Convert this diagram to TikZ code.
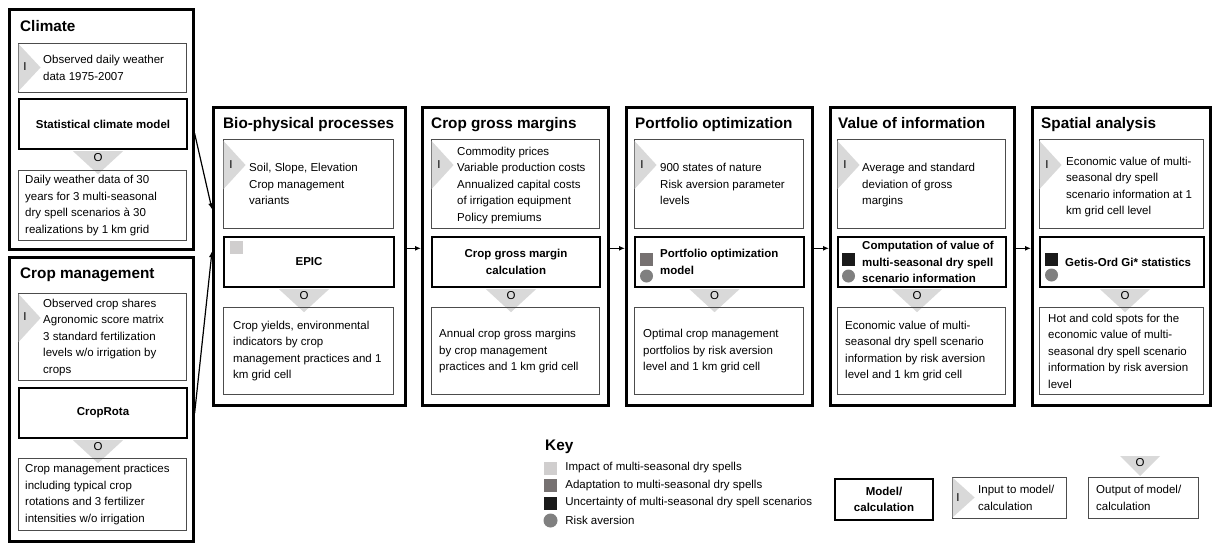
\documentclass[tikz,border=0pt]{standalone}
\usepackage{fontspec}
\setmainfont{Liberation Sans}
\usetikzlibrary{arrows.meta,calc}
\definecolor{impactgrey}{RGB}{208,206,206}
\definecolor{adaptgrey}{RGB}{118,113,113}
\definecolor{uncertblack}{RGB}{26,26,26}
\definecolor{riskgrey}{RGB}{128,128,128}
\definecolor{trigrey}{RGB}{217,217,217}

\begin{document}
\begin{tikzpicture}[x=1pt, y=-1pt, font=\fontsize{11.5}{16.5}\selectfont,
    frame/.style={draw, line width=2.6pt, inner sep=0, anchor=north west},
    modelbox/.style={draw, line width=2pt, inner sep=0, anchor=north west},
    iobox/.style={draw=black!70, line width=1.1pt, inner sep=0, anchor=north west},
    head/.style={font=\fontsize{15.3}{18}\selectfont\bfseries, anchor=base west, inner sep=0},
    txt/.style={align=left, anchor=west, inner sep=0},
    modeltxt/.style={font=\fontsize{11.5}{16.5}\selectfont\bfseries, align=center, inner sep=0},
    letter/.style={inner sep=0},
    tri/.style={fill=trigrey},
    keysq/.style={minimum size=13pt, inner sep=0},
    flow/.style={-{Latex[length=6pt,width=5pt]}, line width=1.2pt}]
    \useasboundingbox (0,0) rectangle (1212,542);

    % Climate
    \node[frame, minimum width=184pt, minimum height=240pt] (clim) at (8,8) {};
    \node[head] (climH) at ($(clim.north west)+(12,23)$) {Climate};
    \node[iobox, minimum width=168pt, minimum height=49pt] (climIn) at (18,43) {};
    \fill[tri] (climIn.north west) ++(0.6,1) -- ++(22,23.5) -- ++(-22,23.5) -- cycle;
    \node[letter] (climI) at ($(climIn.north west)+(7,24)$) {I};
    \node[txt] (climInT) at ($(climIn.west)+(25,0)$) {Observed daily weather\\data 1975-2007};
    \node[modelbox, minimum width=168pt, minimum height=50pt] (climM) at (18,98) {};
    \node[modeltxt] (climMT) at (climM) {Statistical climate model};
    \fill[tri] ($(climM.south)+(-30,1.2)$) -- ++(50,0) -- ++(-25,23) -- cycle;
    \node[letter] (climO) at ($(climM.south)+(-5,8)$) {O};
    \node[iobox, minimum width=168pt, minimum height=70pt] (climOut) at (18,170) {};
    \node[txt] (climOutT) at ($(climOut.west)+(7,0)$) {Daily weather data of 30\\years for 3 multi-seasonal\\dry spell scenarios à 30\\realizations by 1 km grid};

    % Crop management
    \node[frame, minimum width=184pt, minimum height=284pt] (crop) at (8,256) {};
    \node[head] (cropH) at ($(crop.north west)+(12,22)$) {Crop management};
    \node[iobox, minimum width=168pt, minimum height=87pt] (cropIn) at (18,293) {};
    \fill[tri] (cropIn.north west) ++(0.6,1) -- ++(22,24) -- ++(-22,24) -- cycle;
    \node[letter] (cropI) at ($(cropIn.north west)+(7,24)$) {I};
    \node[txt] (cropInT) at ($(cropIn.west)+(25,0)$) {Observed crop shares\\Agronomic score matrix\\3 standard fertilization\\levels w/o irrigation by\\crops};
    \node[modelbox, minimum width=168pt, minimum height=50pt] (cropM) at (18,387) {};
    \node[modeltxt] (cropMT) at (cropM) {CropRota};
    \fill[tri] ($(cropM.south)+(-30,1.2)$) -- ++(50,0) -- ++(-25,23) -- cycle;
    \node[letter] (cropO) at ($(cropM.south)+(-5,8)$) {O};
    \node[iobox, minimum width=168pt, minimum height=72pt] (cropOut) at (18,458) {};
    \node[txt] (cropOutT) at ($(cropOut.west)+(7,0)$) {Crop management practices\\including typical crop\\rotations and 3 fertilizer\\intensities w/o irrigation};

    % Bio-physical processes
    \node[frame, minimum width=192pt, minimum height=298pt] (bio) at (212,106) {};
    \node[head] (bioH) at ($(bio.north west)+(11,22.5)$) {Bio-physical processes};
    \node[iobox, minimum width=170pt, minimum height=89pt] (bioIn) at (223,139) {};
    \fill[tri] (bioIn.north west) ++(0.6,2) -- ++(22,24) -- ++(-22,24) -- cycle;
    \node[letter] (bioI) at ($(bioIn.north west)+(8,26)$) {I};
    \node[txt] (bioInT) at ($(bioIn.west)+(26,0)$) {Soil, Slope, Elevation\\Crop management\\variants};
    \node[modelbox, minimum width=170pt, minimum height=50pt] (bioM) at (223,236) {};
    \node[modeltxt] (bioMT) at (bioM) {EPIC};
    \node[keysq, fill=impactgrey, anchor=north west] (bioSq) at ($(bioM.north west)+(7,5)$) {};
    \fill[tri] ($(bioM.south)+(-30,1.2)$) -- ++(50,0) -- ++(-25,23) -- cycle;
    \node[letter] (bioO) at ($(bioM.south)+(-5,8)$) {O};
    \node[iobox, minimum width=170pt, minimum height=87pt] (bioOut) at (223,307) {};
    \node[txt] (bioOutT) at ($(bioOut.west)+(10,0)$) {Crop yields, environmental\\indicators by crop\\management practices and 1\\km grid cell};

    % Crop gross margins
    \node[frame, minimum width=186pt, minimum height=298pt] (cgm) at (421,106) {};
    \node[head] (cgmH) at ($(cgm.north west)+(10,22.5)$) {Crop gross margins};
    \node[iobox, minimum width=168pt, minimum height=89pt] (cgmIn) at (431,139) {};
    \fill[tri] (cgmIn.north west) ++(0.6,2) -- ++(22,24) -- ++(-22,24) -- cycle;
    \node[letter] (cgmI) at ($(cgmIn.north west)+(8,26)$) {I};
    \node[txt] (cgmInT) at ($(cgmIn.west)+(26,1)$) {Commodity prices\\Variable production costs\\Annualized capital costs\\of irrigation equipment\\Policy premiums};
    \node[modelbox, minimum width=168pt, minimum height=50pt] (cgmM) at (431,236) {};
    \node[modeltxt] (cgmMT) at (cgmM) {Crop gross margin\\calculation};
    \fill[tri] ($(cgmM.south)+(-30,1.2)$) -- ++(50,0) -- ++(-25,23) -- cycle;
    \node[letter] (cgmO) at ($(cgmM.south)+(-5,8)$) {O};
    \node[iobox, minimum width=168pt, minimum height=87pt] (cgmOut) at (431,307) {};
    \node[txt] (cgmOutT) at ($(cgmOut.west)+(8,0)$) {Annual crop gross margins\\by crop management\\practices and 1 km grid cell};

    % Portfolio optimization
    \node[frame, minimum width=186pt, minimum height=298pt] (port) at (625,106) {};
    \node[head] (portH) at ($(port.north west)+(10,22.5)$) {Portfolio optimization};
    \node[iobox, minimum width=169pt, minimum height=89pt] (portIn) at (634,139) {};
    \fill[tri] (portIn.north west) ++(0.6,2) -- ++(22,24) -- ++(-22,24) -- cycle;
    \node[letter] (portI) at ($(portIn.north west)+(8,26)$) {I};
    \node[txt] (portInT) at ($(portIn.west)+(26,0)$) {900 states of nature\\Risk aversion parameter\\levels};
    \node[modelbox, minimum width=169pt, minimum height=50pt] (portM) at (634,236) {};
    \node[modeltxt, anchor=west, align=left] (portMT) at ($(portM.west)+(26,0)$) {Portfolio optimization\\model};
    \node[keysq, fill=adaptgrey, anchor=north west] (portSq) at ($(portM.north west)+(6,17)$) {};
    \fill[riskgrey] ($(portM.north west)+(12.5,40)$) circle (6.5);
    \fill[tri] ($(portM.south)+(-30,1.2)$) -- ++(50,0) -- ++(-25,23) -- cycle;
    \node[letter] (portO) at ($(portM.south)+(-5,8)$) {O};
    \node[iobox, minimum width=169pt, minimum height=87pt] (portOut) at (634,307) {};
    \node[txt] (portOutT) at ($(portOut.west)+(9,0)$) {Optimal crop management\\portfolios by risk aversion\\level and 1 km grid cell};

    % Value of information
    \node[frame, minimum width=184pt, minimum height=298pt] (voi) at (829,106) {};
    \node[head] (voiH) at ($(voi.north west)+(9,22.5)$) {Value of information};
    \node[iobox, minimum width=168pt, minimum height=89pt] (voiIn) at (837,139) {};
    \fill[tri] (voiIn.north west) ++(0.6,2) -- ++(22,24) -- ++(-22,24) -- cycle;
    \node[letter] (voiI) at ($(voiIn.north west)+(8,26)$) {I};
    \node[txt] (voiInT) at ($(voiIn.west)+(25,1)$) {Average and standard\\deviation of gross\\margins};
    \node[modelbox, minimum width=168pt, minimum height=50pt] (voiM) at (837,236) {};
    \node[modeltxt, anchor=west, align=left] (voiMT) at ($(voiM.west)+(25,0)$) {Computation of value of\\multi-seasonal dry spell\\scenario information};
    \node[keysq, fill=uncertblack, anchor=north west] (voiSq) at ($(voiM.north west)+(5,17)$) {};
    \fill[riskgrey] ($(voiM.north west)+(11.5,40)$) circle (6.5);
    \fill[tri] ($(voiM.south)+(-30,1.2)$) -- ++(50,0) -- ++(-25,23) -- cycle;
    \node[letter] (voiO) at ($(voiM.south)+(-5,8)$) {O};
    \node[iobox, minimum width=168pt, minimum height=87pt] (voiOut) at (837,307) {};
    \node[txt] (voiOutT) at ($(voiOut.west)+(8,0)$) {Economic value of multi-\\seasonal dry spell scenario\\information by risk aversion\\level and 1 km grid cell};

    % Spatial analysis
    \node[frame, minimum width=178pt, minimum height=298pt] (spat) at (1031,106) {};
    \node[head] (spatH) at ($(spat.north west)+(10,22.5)$) {Spatial analysis};
    \node[iobox, minimum width=164pt, minimum height=89pt] (spatIn) at (1039,139) {};
    \fill[tri] (spatIn.north west) ++(0.6,2) -- ++(22,24) -- ++(-22,24) -- cycle;
    \node[letter] (spatI) at ($(spatIn.north west)+(8,26)$) {I};
    \node[txt] (spatInT) at ($(spatIn.west)+(27,3)$) {Economic value of multi-\\seasonal dry spell\\scenario information at 1\\km grid cell level};
    \node[modelbox, minimum width=164pt, minimum height=50pt] (spatM) at (1039,236) {};
    \node[modeltxt, anchor=west, align=left] (spatMT) at ($(spatM.west)+(26,0)$) {Getis-Ord Gi* statistics};
    \node[keysq, fill=uncertblack, anchor=north west] (spatSq) at ($(spatM.north west)+(6,17)$) {};
    \fill[riskgrey] ($(spatM.north west)+(12.5,39)$) circle (6.5);
    \fill[tri] ($(spatM.south)+(-22,1.2)$) -- ++(50,0) -- ++(-25,23) -- cycle;
    \node[letter] (spatO) at ($(spatM.south)+(3,8)$) {O};
    \node[iobox, minimum width=164pt, minimum height=87pt] (spatOut) at (1039,307) {};
    \node[txt] (spatOutT) at ($(spatOut.west)+(9,0)$) {Hot and cold spots for the\\economic value of multi-\\seasonal dry spell scenario\\information by risk aversion\\level};

    % connectors
    \draw[flow] ([yshift=-4pt]clim.east) -- ([yshift=47pt]bio.west);
    \draw[flow] ([yshift=-14pt]crop.east) -- ([yshift=5pt]bio.west);
    \draw[flow] ([yshift=8pt]bio.east) -- ([yshift=8pt]cgm.west);
    \draw[flow] ([yshift=8pt]cgm.east) -- ([yshift=8pt]port.west);
    \draw[flow] ([yshift=8pt]port.east) -- ([yshift=8pt]voi.west);
    \draw[flow] ([yshift=8pt]voi.east) -- ([yshift=8pt]spat.west);

    % key
    \node[head] (key) at (545,450.5) {Key};
    \node[keysq, fill=impactgrey] (k1) at (550.5,468) {};
    \node[txt] (k1T) at ($(k1.east)+(8,0)$) {Impact of multi-seasonal dry spells};
    \node[keysq, fill=adaptgrey] (k2) at (550.5,485.5) {};
    \node[txt] (k2T) at ($(k2.east)+(8,0)$) {Adaptation to multi-seasonal dry spells};
    \node[keysq, fill=uncertblack] (k3) at (550.5,503) {};
    \node[txt] (k3T) at ($(k3.east)+(8,0)$) {Uncertainty of multi-seasonal dry spell scenarios};
    \node[circle, fill=riskgrey, minimum size=14pt, inner sep=0] (k4) at (550.5,520.5) {};
    \node[txt] (k4T) at ($(k4.east)+(7.5,0)$) {Risk aversion};

    \node[modelbox, minimum width=98pt, minimum height=41pt] (keyM) at (834,478) {};
    \node[modeltxt] (keyMT) at (keyM) {Model/\\calculation};
    \node[iobox, minimum width=114pt, minimum height=41pt] (keyIn) at (952,477) {};
    \fill[tri] (keyIn.north west) ++(0.6,0.6) -- ++(22,19.9) -- ++(-22,19.9) -- cycle;
    \node[letter] (keyI) at ($(keyIn.north west)+(6,21)$) {I};
    \node[txt] (keyInT) at ($(keyIn.west)+(26,0)$) {Input to model/\\calculation};
    \fill[tri] (1120,456) -- ++(40,0) -- ++(-20,20) -- cycle;
    \node[letter] (keyO) at (1140,463) {O};
    \node[iobox, minimum width=110pt, minimum height=41pt] (keyOut) at (1088,477) {};
    \node[txt] (keyOutT) at ($(keyOut.west)+(8,0)$) {Output of model/\\calculation};
\end{tikzpicture}
\end{document}
